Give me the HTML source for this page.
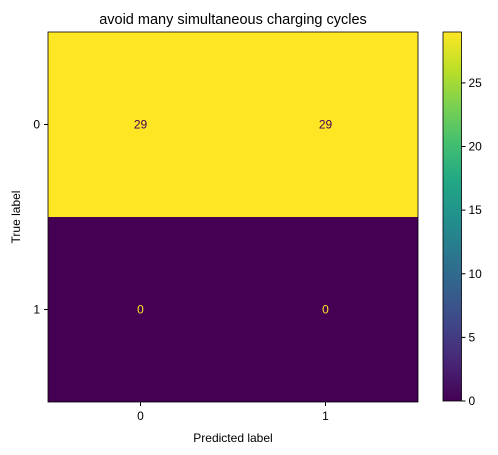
<!DOCTYPE html>
<html><head><meta charset="utf-8"><style>body{margin:0;background:#fff}svg{display:block;font-family:"Liberation Sans",sans-serif}</style></head>
<body>
<svg id="chart" width="498" height="455" xmlns="http://www.w3.org/2000/svg">
<defs><linearGradient id="vir" x1="0" y1="1" x2="0" y2="0">
<stop offset="0" stop-color="#440154"/><stop offset="0.1" stop-color="#482475"/><stop offset="0.2" stop-color="#414487"/><stop offset="0.3" stop-color="#355f8d"/><stop offset="0.4" stop-color="#2a788e"/><stop offset="0.5" stop-color="#21918c"/><stop offset="0.6" stop-color="#22a884"/><stop offset="0.7" stop-color="#44bf70"/><stop offset="0.8" stop-color="#7ad151"/><stop offset="0.9" stop-color="#bddf26"/><stop offset="1" stop-color="#fde725"/></linearGradient></defs>
<text x="233" y="24" text-anchor="middle" font-size="14.5">avoid many simultaneous charging cycles</text>
<g id="cells"></g>
<rect x="48" y="32" width="370" height="370" fill="none" stroke="#000" stroke-width="0.8"/>
<g id="axes" font-size="12"></g>
<text x="233" y="442" text-anchor="middle" font-size="12">Predicted label</text>
<text transform="translate(20,217) rotate(-90)" text-anchor="middle" font-size="12">True label</text>
<rect x="443" y="32" width="18.5" height="369" fill="url(#vir)" stroke="#000" stroke-width="0.8"/>
<g id="cbar" font-size="12"></g>
</svg>
<script>
const labels=["0","1"];
const matrix=[[29,29],[0,0]];
const cbTicks=[0,5,10,15,20,25];
const vmin=0,vmax=29;
const ns="http://www.w3.org/2000/svg";
const L=48,T=32,S=370,n=labels.length,cs=S/n;
function mk(t,a,p){const e=document.createElementNS(ns,t);for(const k in a)e.setAttribute(k,a[k]);p.appendChild(e);return e;}
const cells=document.getElementById('cells'),axes=document.getElementById('axes'),cb=document.getElementById('cbar');
function color(v){const f=(v-vmin)/(vmax-vmin);return f>0.5?'#fde725':'#440154';}
matrix.forEach((row,i)=>row.forEach((v,j)=>{
 const r=mk('rect',{x:L+j*cs,y:T+i*cs,width:cs,height:cs,fill:color(v)},cells);
 
 
 const t=mk('text',{x:L+(j+0.5)*cs,y:T+(i+0.5)*cs+4,'text-anchor':'middle','font-size':12,fill:v>(vmax+vmin)/2?'#440154':'#fde725'},cells);
 t.textContent=v;
 
 
}));
labels.forEach((l,k)=>{
 const c=L+(k+0.5)*cs;
 mk('line',{x1:c,x2:c,y1:T+S,y2:T+S+4,stroke:'#000'},axes);
 const tx=mk('text',{x:c,y:T+S+18,'text-anchor':'middle'},axes);tx.textContent=l;
 
 
 const cy=T+(k+0.5)*cs;
 mk('line',{x1:L-4,x2:L,y1:cy,y2:cy,stroke:'#000'},axes);
 const ty=mk('text',{x:L-8,y:cy+4,'text-anchor':'end'},axes);ty.textContent=l;
 
 
});
const cbTop=32,cbH=369,cbX=461.5;
cbTicks.forEach(v=>{
 const y=cbTop+cbH*(1-(v-vmin)/(vmax-vmin));
 mk('line',{x1:cbX,x2:cbX+4,y1:y,y2:y,stroke:'#000'},cb);
 const t=mk('text',{x:cbX+7,y:y+4},cb);t.textContent=v;
 
 
});
</script>
</body></html>
